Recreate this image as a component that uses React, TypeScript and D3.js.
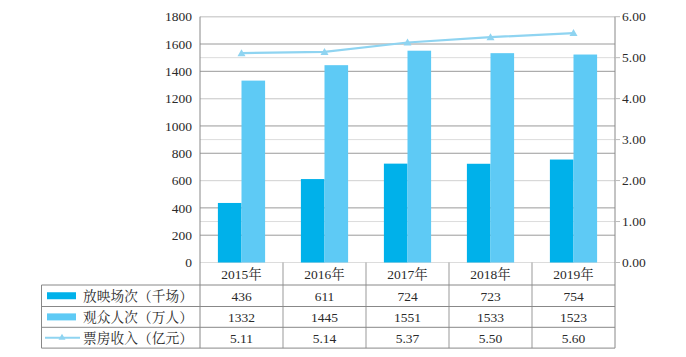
import React from "react";
import * as d3 from "d3";

const categories = ["2015年", "2016年", "2017年", "2018年", "2019年"];
const screenings = [436, 611, 724, 723, 754];
const audience = [1332, 1445, 1551, 1533, 1523];
const boxOffice = [5.11, 5.14, 5.37, 5.5, 5.6];
const boxOfficeLabels = ["5.11", "5.14", "5.37", "5.50", "5.60"];
const leftTicks = [0, 200, 400, 600, 800, 1000, 1200, 1400, 1600, 1800];
const rightTicks = [0, 1, 2, 3, 4, 5, 6];
const seriesNames = ["放映场次（千场）", "观众人次（万人）", "票房收入（亿元）"];

const W = 686;
const H = 357;
const L = 200;
const R = 615;
const T = 16.7;
const B = 262.5;
const rowH = [22.5, 21.5, 20.8, 20.8];
const tableLeft = 41.5;

const DARK = "#00b1ea";
const LIGHT = "#5ecaf5";
const LINE = "#8fd4f1";
const SERIF = '"Liberation Serif", "Noto Serif CJK SC", "Noto Sans CJK SC", serif';

export default function App() {
  const x = d3.scaleBand<string>().domain(categories).range([L, R]);
  const yL = d3.scaleLinear().domain([0, 1800]).range([B, T]);
  const yR = d3.scaleLinear().domain([0, 6]).range([B, T]);
  const bw = 23.6;
  const line = d3
    .line<number>()
    .x((_, i) => x(categories[i])! + x.bandwidth() / 2)
    .y((d) => yR(d));

  const rowY: number[] = [B];
  rowH.forEach((h, i) => rowY.push(rowY[i] + h));

  const tri = (cx: number, cy: number, s = 4) =>
    `M${cx},${cy - s}L${cx + s},${cy + s * 0.75}L${cx - s},${cy + s * 0.75}Z`;

  const rows = [screenings.map(String), audience.map(String), boxOfficeLabels];
  const txt = { fontSize: 13.5, fill: "#2a2a2a" };

  return (
    <svg width={W} height={H} style={{ display: "block", position: "absolute", left: 0, top: 0, fontFamily: SERIF }}>
      <rect width={W} height={H} fill="#fff" />
      {leftTicks.map((t) => (
        <line key={"gl" + t} x1={L} x2={R} y1={yL(t)} y2={yL(t)} stroke="#9a9a9a" strokeWidth={1} />
      ))}
      {rightTicks.map((t) => (
        <line key={"gr" + t} x1={L} x2={R} y1={yR(t)} y2={yR(t)} stroke="#dcdcdc" strokeWidth={1} />
      ))}
      {categories.map((c, i) => {
        const cx = x(c)! + x.bandwidth() / 2;
        return (
          <g key={c}>
            <rect x={cx - bw} y={yL(screenings[i])} width={bw} height={B - yL(screenings[i])} fill={DARK} />
            <rect x={cx} y={yL(audience[i])} width={bw} height={B - yL(audience[i])} fill={LIGHT} />
          </g>
        );
      })}
      <path d={line(boxOffice)!} fill="none" stroke={LINE} strokeWidth={2.2} />
      {boxOffice.map((v, i) => (
        <path key={i} d={tri(x(categories[i])! + x.bandwidth() / 2, yR(v))} fill={LINE} />
      ))}
      <line x1={L} x2={L} y1={T} y2={rowY[4]} stroke="#888" />
      <line x1={R} x2={R} y1={T} y2={rowY[4]} stroke="#888" />
      {rightTicks.map((t) => (
        <line key={"rt" + t} x1={R} x2={R + 5} y1={yR(t)} y2={yR(t)} stroke="#bbb" />
      ))}
      {leftTicks.map((t) => (
        <text key={"lt" + t} x={192} y={yL(t)} dy="0.35em" textAnchor="end" {...txt}>
          {t}
        </text>
      ))}
      {rightTicks.map((t) => (
        <text key={"rl" + t} x={622} y={yR(t)} dy="0.35em" textAnchor="start" {...txt}>
          {t.toFixed(2)}
        </text>
      ))}
      {categories.map((c, i) =>
        i > 0 ? <line key={"v" + c} x1={x(c)!} x2={x(c)!} y1={B} y2={rowY[4]} stroke="#999" /> : null
      )}
      {[1, 2, 3, 4].map((r) => (
        <line key={"h" + r} x1={tableLeft} x2={R} y1={rowY[r]} y2={rowY[r]} stroke="#888" />
      ))}
      <line x1={tableLeft} x2={tableLeft} y1={rowY[1]} y2={rowY[4]} stroke="#888" />
      {categories.map((c) => (
        <text key={"hd" + c} x={x(c)! + x.bandwidth() / 2} y={(rowY[0] + rowY[1]) / 2 + 1} dy="0.35em" textAnchor="middle" {...txt}>
          {c}
        </text>
      ))}
      {rows.map((vals, r) =>
        vals.map((v, i) => (
          <text key={"c" + r + i} x={x(categories[i])! + x.bandwidth() / 2} y={(rowY[r + 1] + rowY[r + 2]) / 2 + 0.5} dy="0.35em" textAnchor="middle" {...txt}>
            {v}
          </text>
        ))
      )}
      {seriesNames.map((n, r) => {
        const cy = (rowY[r + 1] + rowY[r + 2]) / 2;
        return (
          <g key={n}>
            {r < 2 ? (
              <rect x={47} y={cy - 3.5} width={29} height={7} fill={r === 0 ? DARK : LIGHT} />
            ) : (
              <g>
                <line x1={45} x2={80} y1={cy} y2={cy} stroke={LINE} strokeWidth={2} />
                <path d={tri(62, cy - 0.5, 3.5)} fill={LINE} />
              </g>
            )}
            <text x={83} y={cy + 0.5} dy="0.35em" fontSize={13.7} fill="#2a2a2a" textLength={110} lengthAdjust="spacing">
              {n}
            </text>
          </g>
        );
      })}
    </svg>
  );
}
